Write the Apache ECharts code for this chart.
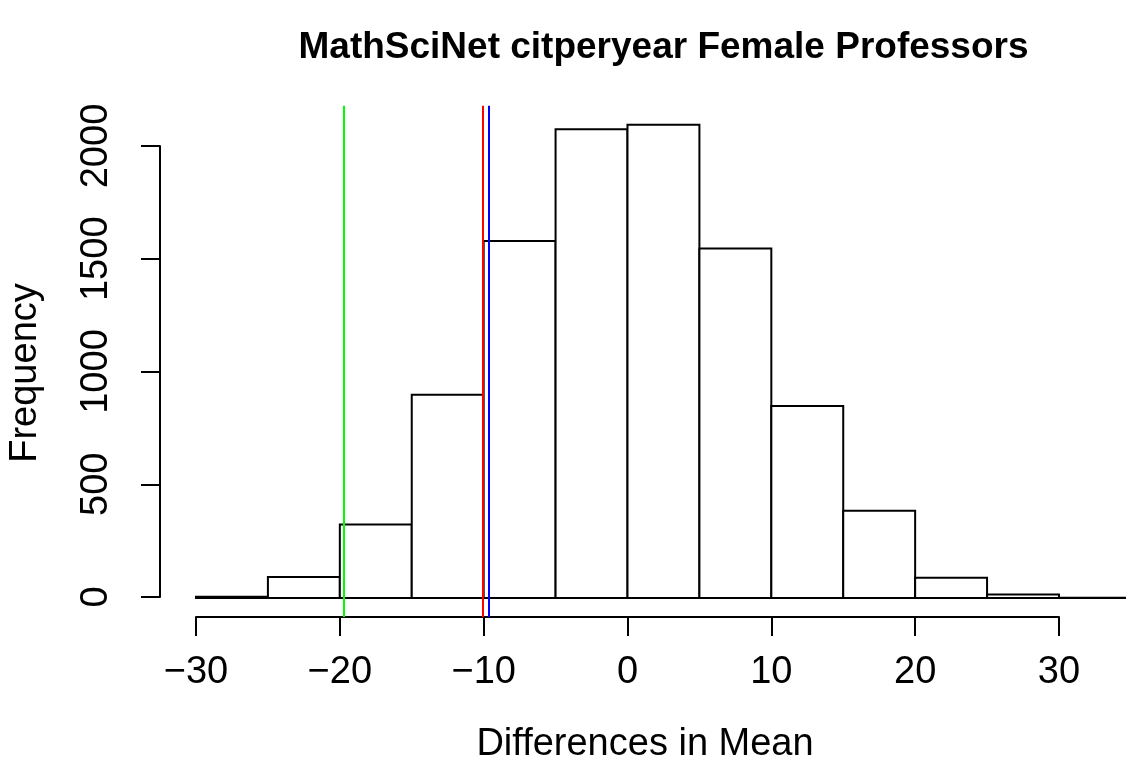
<!DOCTYPE html>
<html>
<head>
<meta charset="utf-8">
<script src="https://cdn.jsdelivr.net/npm/echarts/dist/echarts.min.js"></script>
<style>
  html, body { margin: 0; padding: 0; background: #fff; }
  #chart { width: 1126px; height: 764px; }
</style>
</head>
<body>
<div id="chart"></div>
<script>
// ---- data ----
const breaks = [-30, -25, -20, -15, -10, -5, 0, 5, 10, 15, 20, 25, 30, 35];
const counts = [6, 93, 326, 902, 1583, 2079, 2099, 1550, 852, 387, 90, 16, 1];
const refValues = [-19.76, -10.05, -9.68];
const refColors = ['#00ff00', '#ff0000', '#0000ff'];
const xTickMin = -30, xTickMax = 30, xTickStep = 10;
const yTickMin = 0, yTickMax = 2000, yTickStep = 500;
const titleText = 'MathSciNet citperyear Female Professors';
const xLabelText = 'Differences in Mean';
const yLabelText = 'Frequency';

const FONT = '"Liberation Sans", Arial, Helvetica, sans-serif';
const histData = counts.map((c, i) => [breaks[i], breaks[i + 1], c]);

const chart = echarts.init(document.getElementById('chart'), null, { renderer: 'canvas' });

const minusFmt = v => (v < 0 ? '\u2212' + Math.abs(v) : String(v));

const option = {
  backgroundColor: '#ffffff',
  animation: false,
  grid: [
    // plot region (R's usr region), right edge cut by the canvas
    { left: 196, right: 0, top: 105.8, bottom: 147 },
    // x axis strip
    { left: 196, right: 67, top: 560, bottom: 147 },
    // y axis strip
    { left: 160, width: 100, top: 146, bottom: 167 }
  ],
  xAxis: [
    { gridIndex: 0, type: 'value', min: -30, max: 34.66, show: false },
    {
      gridIndex: 1, type: 'value', min: xTickMin, max: xTickMax, interval: xTickStep,
      position: 'bottom',
      axisLine: { show: true, lineStyle: { color: '#000', width: 2 } },
      axisTick: { show: true, length: 19, lineStyle: { color: '#000', width: 2 } },
      axisLabel: { show: true, margin: 37, fontSize: 38, color: '#000', fontFamily: FONT, formatter: minusFmt },
      splitLine: { show: false }
    },
    { gridIndex: 2, type: 'value', min: 0, max: 1, show: false }
  ],
  yAxis: [
    { gridIndex: 0, type: 'value', min: -84, max: 2183, show: false },
    { gridIndex: 1, type: 'value', min: 0, max: 1, show: false },
    {
      gridIndex: 2, type: 'value', min: yTickMin, max: yTickMax, interval: yTickStep,
      position: 'left',
      axisLine: { show: true, lineStyle: { color: '#000', width: 2 } },
      axisTick: { show: true, length: 19, lineStyle: { color: '#000', width: 2 } },
      axisLabel: { show: true, rotate: 90, margin: 44, fontSize: 38, color: '#000', fontFamily: FONT, formatter: v => String(v) },
      splitLine: { show: false }
    }
  ],
  series: [
    {
      type: 'custom',
      xAxisIndex: 0, yAxisIndex: 0,
      clip: false,
      encode: { x: [0, 1], y: 2 },
      data: histData,
      renderItem: function (params, api) {
        const x0 = api.value(0), x1 = api.value(1), c = api.value(2);
        const pTop = api.coord([x0, c]);
        const pBot = api.coord([x1, 0]);
        return {
          type: 'rect',
          shape: { x: pTop[0], y: pTop[1], width: pBot[0] - pTop[0], height: pBot[1] - pTop[1] },
          style: { fill: '#ffffff', stroke: '#000000', lineWidth: 2 }
        };
      },
      markLine: {
        silent: true,
        symbol: ['none', 'none'],
        label: { show: false },
        z: 10,
        data: refValues.map((v, i) => ({ xAxis: v, lineStyle: { color: refColors[i], width: 2, type: 'solid' } }))
      }
    }
  ],
  graphic: [
    { type: 'text', x: 663.5, y: 48, style: { text: titleText, font: 'bold 37px ' + FONT, fill: '#000', textAlign: 'center', textVerticalAlign: 'middle' } },
    { type: 'text', x: 645, y: 745, style: { text: xLabelText, font: '38px ' + FONT, fill: '#000', textAlign: 'center', textVerticalAlign: 'middle' } },
    { type: 'text', x: 26, y: 373, rotation: Math.PI / 2, style: { text: yLabelText, font: '38px ' + FONT, fill: '#000', textAlign: 'center', textVerticalAlign: 'middle' } }
  ]
};

chart.setOption(option);
</script>
</body>
</html>
